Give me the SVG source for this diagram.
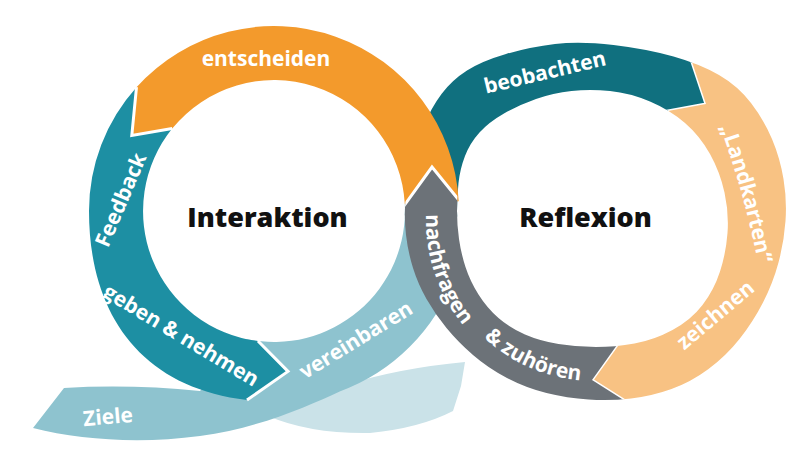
<svg xmlns="http://www.w3.org/2000/svg" width="803" height="462" viewBox="0 0 803 462">
<defs>
<style>
.lbl{font-family:"Open Sans","Noto Sans","DejaVu Sans",sans-serif;font-weight:700;font-size:21px;fill:#fff;text-anchor:middle}
.ttl{font-family:"Open Sans","Noto Sans","DejaVu Sans",sans-serif;font-weight:800;font-size:27px;fill:#111;text-anchor:middle}
.ol{fill:none;stroke:#fff;stroke-width:3;stroke-linejoin:miter;stroke-linecap:butt}
.orange{fill:#f39a2c}.teal{fill:#1d8fa3}.dteal{fill:#10707f}.lteal{fill:#8ec3cf}.pale{fill:#cae2e8}.lorange{fill:#f8c283}.gray{fill:#6c7278}
</style>
<clipPath id="ringR"><path clip-rule="evenodd" d="M555 44 Q580 41 613.5 45 Q647 49 673.5 56.5 Q700 64 719 75 Q738 86 751 103 Q764 120 772 139 Q780 158 783.5 179 Q787 200 785.5 221 Q784 242 778.5 262.5 Q773 283 763 302.5 Q753 322 739.5 339 Q726 356 708.5 369 Q691 382 671.5 389 Q652 396 631 398.5 Q610 401 588.5 399.5 Q567 398 546.5 393 Q526 388 507 378 Q488 368 473 355 Q458 342 446.5 328 Q435 314 426.5 299 Q418 284 413 268 Q408 252 406 235 Q404 218 405.5 200 Q407 182 411.5 163.5 Q416 145 423.5 126.5 Q431 108 441.5 94 Q452 80 467 70.5 Q482 61 506 54 Q530 47 555 44 Z M571.5 91 Q590 89 610 91 Q630 93 650 101.5 Q670 110 685 123 Q700 136 710 154 Q720 172 724.5 192.5 Q729 213 727.5 233 Q726 253 720 271.5 Q714 290 702.5 305 Q691 320 672.5 330 Q654 340 634.5 343.5 Q615 347 596 347 Q577 347 558.5 344 Q540 341 525 334.5 Q510 328 498.5 318 Q487 308 478.5 294.5 Q470 281 465.5 267 Q461 253 459 239 Q457 225 457 211 Q457 197 458.5 183 Q460 169 465 156 Q470 143 479.5 132.5 Q489 122 504 113.5 Q519 105 536 99 Q553 93 571.5 91 Z"/></clipPath>
<path id="tp-nach" d="M450.8 132.2 A168 168 0 0 0 532.4 376.3"/>
<path id="tp-zu" d="M443.7 277.7 A161 161 0 0 0 651.7 370.3"/>
<path id="tp-land" d="M698 72 Q750 190 768 322"/>
</defs>
<rect width="803" height="462" fill="#fff"/>

<g id="pale-band">
<path class="pale" d="M300 395 L345 385 Q400 368 465 362 L461 386 L453 411 Q420 428 370 433 Q310 434 268 416 Z"/>
</g>

<g id="beobachten">
<polygon class="dteal" clip-path="url(#ringR)" points="593,220 360,214 360,0 677.4,18.2 706,104 611,121.5"/>
<polyline class="ol" clip-path="url(#ringR)" points="677.4,18.2 706,104 611,121.5"/>
<text class="lbl" transform="translate(545,72.5) rotate(-13.5)" y="7">beobachten</text>
</g>

<g id="landkarten">
<polygon class="lorange" clip-path="url(#ringR)" points="593,220 611,121.5 706,104 677.4,18.2 803,0 803,462 667,427.5 592,380 654.5,292.5"/>
<polyline class="ol" clip-path="url(#ringR)" points="667,427.5 592,380 654.5,292.5"/>
<text class="lbl"><textPath href="#tp-land" startOffset="50%">„Landkarten“</textPath></text>
<text class="lbl" transform="translate(715.5,315) rotate(-40)" y="7">zeichnen</text>
</g>

<g id="ziele-vereinbaren">
<path class="lteal" d="M64 388 Q130 384 200 391 L246.8 339.1 A131 131 0 0 0 404.8 204.1 L440 203 L452 260 L454.4 276.7 A192 192 0 0 1 339.7 391.4 C310 405 260 428 200 436 C140 444 80 440 33 428 Z"/>
<text class="lbl" transform="translate(108,417) rotate(-5)" y="7">Ziele</text>
<text class="lbl" transform="translate(356,340) rotate(-31.5)" y="7">vereinbaren</text>
</g>

<g id="feedback">
<path class="teal" d="M136.5 87.2 A185 185 0 0 0 89 211 C89 311 138 387 247 400 L288 371.4 L258 341 A131 131 0 0 1 172.2 128.6 L131.8 135.4 Z"/>
<polyline class="ol" points="258,341 288,371.4 247,400"/>
<text class="lbl" transform="translate(121,200) rotate(-67)" y="7">Feedback</text>
<text class="lbl" transform="translate(181,335.5) rotate(31)" y="7">geben &amp; nehmen</text>
</g>

<g id="entscheiden">
<path class="orange" d="M136.5 87.2 A185 185 0 0 1 458.7 201.3 L404.8 204.1 A131 131 0 0 0 172.2 128.6 L131.8 135.4 Z"/>
<polyline class="ol" points="136.5,87.2 131.8,135.4 172.2,128.6"/>
<text class="lbl" x="266" y="66">entscheiden</text>
</g>

<g id="nachfragen">
<polygon class="gray" clip-path="url(#ringR)" points="593,220 654.5,292.5 592,380 667,427.5 620,470 340,470 367,257 432,167 497,247"/>
<polyline class="ol" clip-path="url(#ringR)" points="367,257 432,167 497,247"/>
<text class="lbl"><textPath href="#tp-nach" startOffset="50%">nachfragen</textPath></text>
<text class="lbl"><textPath href="#tp-zu" startOffset="50%">&amp; zuhören</textPath></text>
</g>

<g id="interaktion">
<text class="ttl" x="267.5" y="227">Interaktion</text>
</g>
<g id="reflexion">
<text class="ttl" x="585.5" y="227">Reflexion</text>
</g>
</svg>
